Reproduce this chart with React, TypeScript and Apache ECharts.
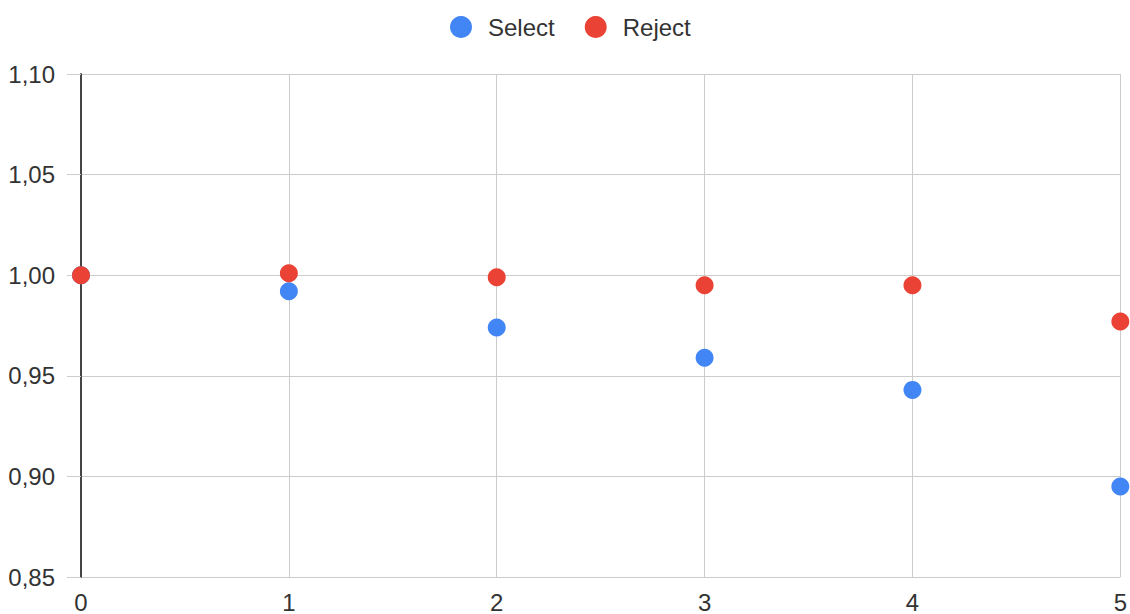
import React, { useEffect, useRef } from "react";
import * as echarts from "echarts";

const xValues = [0, 1, 2, 3, 4, 5];
const selectValues = [1.0, 0.992, 0.974, 0.959, 0.943, 0.895];
const rejectValues = [1.0, 1.001, 0.999, 0.995, 0.995, 0.977];
const seriesNames = ["Select", "Reject"];
const colors = ["#4285F4", "#EA4335"];

const FONT = "'Liberation Sans', Arial, sans-serif";

export default function App() {
  const ref = useRef<HTMLDivElement>(null);
  useEffect(() => {
    if (!ref.current) return;
    const chart = echarts.init(ref.current, undefined, { renderer: "svg" });
    const toPairs = (vals: number[]) => xValues.map((x, i) => [x, vals[i]]);
    chart.setOption({
      animation: false,
      color: colors,
      textStyle: { fontFamily: FONT },
      legend: {
        top: 10,
        left: 445,
        icon: "circle",
        itemWidth: 22,
        itemHeight: 22,
        itemGap: 30,
        data: seriesNames,
        itemStyle: { opacity: 1 },
        textStyle: { fontSize: 24, color: "#333", fontFamily: FONT, padding: [0, 0, 0, 11] },
      },
      grid: { left: 81, top: 74, right: 9, bottom: 33, containLabel: false },
      xAxis: {
        type: "value",
        min: 0,
        max: 5,
        interval: 1,
        axisLine: { show: false },
        axisTick: { show: false },
        splitLine: { show: true, lineStyle: { color: "#cccccc", width: 1 } },
        axisLabel: { color: "#333", fontSize: 24, margin: 13, fontFamily: FONT },
      },
      yAxis: {
        type: "value",
        min: 0.85,
        max: 1.1,
        interval: 0.05,
        axisLine: { show: true, onZero: false, lineStyle: { color: "#444", width: 2 } },
        axisTick: { show: true, length: 14, lineStyle: { color: "#cccccc" } },
        splitLine: { show: true, lineStyle: { color: "#cccccc", width: 1 } },
        axisLabel: {
          color: "#333",
          fontSize: 24,
          margin: 26,
          fontFamily: FONT,
          formatter: (v: number) => v.toFixed(2).replace(".", ","),
        },
      },
      series: [
        {
          name: seriesNames[0],
          type: "scatter",
          symbol: "circle",
          symbolSize: 18,
          data: toPairs(selectValues),
          itemStyle: { color: colors[0], opacity: 1 },
        },
        {
          name: seriesNames[1],
          type: "scatter",
          symbol: "circle",
          symbolSize: 18,
          data: toPairs(rejectValues),
          itemStyle: { color: colors[1], opacity: 1 },
        },
      ],
    });
    return () => chart.dispose();
  }, []);
  return (
    <div
      ref={ref}
      style={{ position: "fixed", left: 0, top: 0, width: 1130, height: 614, background: "#fff" }}
    />
  );
}
